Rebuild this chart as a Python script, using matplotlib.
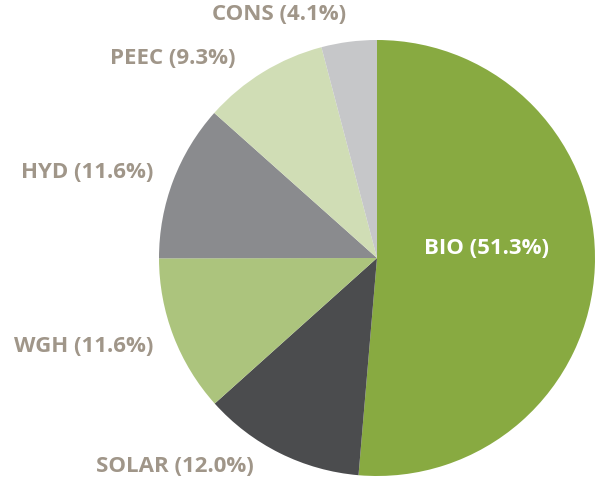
import matplotlib.pyplot as plt

# shares of funding by programme
labels = ["BIO", "SOLAR", "WGH", "HYD", "PEEC", "CONS"]
shares = [51.3, 12.0, 11.6, 11.6, 9.3, 4.1]
colors = ["#88aa41", "#4b4c4e", "#acc47d", "#8a8b8e", "#d0ddb5", "#c6c7c9"]

# label anchors in pixel space (x, y from top, alignment)
label_pos = {
    "BIO": (487, 248, "center"),
    "SOLAR": (254, 467, "right"),
    "WGH": (153, 346, "right"),
    "HYD": (153, 173, "right"),
    "PEEC": (236, 58, "right"),
    "CONS": (346, 14, "right"),
}

W, H = 595, 480
fig = plt.figure(figsize=(W / 100, H / 100), dpi=100)
ax = fig.add_axes([0, 0, 1, 1])

ax.pie(shares, colors=colors, startangle=90, counterclock=False,
       center=(377, H - 258), radius=218, frame=True,
       wedgeprops=dict(linewidth=0))
ax.set_xlim(0, W)
ax.set_ylim(0, H)
ax.set_aspect("equal")
ax.axis("off")

for name, val in zip(labels, shares):
    x, y, ha = label_pos[name]
    col = "white" if name == "BIO" else "#a09689"
    ax.text(x, H - y, f"{name} ({val:.1f}%)", ha=ha, va="center",
            fontsize=16, fontweight="bold", family="Open Sans", color=col)

fig.savefig("out.png", dpi=100)
